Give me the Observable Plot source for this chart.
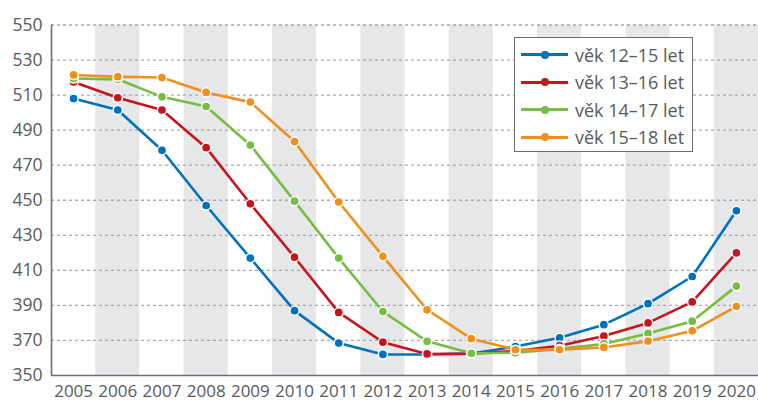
<!DOCTYPE html>
<html>
<head>
<meta charset="utf-8">
<script src="https://cdn.jsdelivr.net/npm/d3@7"></script>
<script src="https://cdn.jsdelivr.net/npm/@observablehq/plot@0.6"></script>
<style>
  html, body { margin: 0; padding: 0; background: #fff; }
  #wrap { position: relative; width: 758px; height: 401px; font-family: "Open Sans", sans-serif; }
  #legend { position: absolute; left: 514px; top: 37px; width: 179px; height: 115px; background: #fff; border: 1px solid #6d6e71; box-sizing: border-box; }
  .row { position: absolute; left: 0; height: 20px; display: flex; align-items: center; }
  .sym { position: relative; width: 47px; height: 20px; margin-left: 6px; }
  .sym .ln { position: absolute; left: 0; right: 0; top: 8.5px; height: 3px; }
  .sym .dt { position: absolute; left: 19.5px; top: 6px; width: 8px; height: 8px; border-radius: 50%; }
  .lab { margin-left: 7px; font-size: 18px; color: #58595b; white-space: nowrap; }
</style>
</head>
<body>
<div id="wrap"><div id="chart"></div><div id="legend"></div></div>
<script>
const years = [2005, 2006, 2007, 2008, 2009, 2010, 2011, 2012, 2013, 2014, 2015, 2016, 2017, 2018, 2019, 2020];
const seriesNames = ["věk 12–15 let", "věk 13–16 let", "věk 14–17 let", "věk 15–18 let"];
const seriesColors = ["#0071bc", "#c4161c", "#76bd43", "#f18f1c"];
const age12to15 = [508, 501.5, 478.5, 447, 417, 387, 368.5, 362, 362, 362.5, 366.5, 371.5, 379, 391, 406.5, 444];
const age13to16 = [517.5, 508.5, 501.5, 480, 448, 417.5, 386, 369, 362.3, 362.5, 364, 367, 372.5, 380, 392, 420];
const age14to17 = [519.5, 519, 509, 503.5, 481.5, 449.5, 417, 386.5, 369.5, 362.7, 363, 365.2, 368, 374, 381, 401];
const age15to18 = [521.5, 520.5, 520, 511.5, 506, 483.5, 449, 418, 387.5, 371, 364.7, 364.7, 366, 369.6, 375.5, 389.5];
const yTicks = [350, 370, 390, 410, 430, 450, 470, 490, 510, 530, 550];

const allSeries = [age12to15, age13to16, age14to17, age15to18];
const shadedYears = years.filter(y => y % 2 === 0);

const marks = [
  Plot.rect(shadedYears, {x1: d => d - 0.5, x2: d => d + 0.5, y1: yTicks[0], y2: yTicks[yTicks.length - 1], fill: "#e6e7e8"}),
  Plot.ruleY(yTicks.slice(1), {stroke: "#a7a9ac", strokeWidth: 1.3, strokeDasharray: "3,3"}),
  Plot.ruleY([yTicks[0]], {stroke: "#6d6e71", strokeWidth: 1.6}),
  Plot.ruleX([years[0] - 0.5], {stroke: "#6d6e71", strokeWidth: 1.6}),
  Plot.axisY({ticks: yTicks, tickSize: 0, tickPadding: 9, tickFormat: d => String(d), fill: "#58595b", fontSize: 17.5, label: null}),
  Plot.axisX({ticks: years, tickSize: 0, tickPadding: 9, tickFormat: d => String(d), fill: "#58595b", fontSize: 17, label: null})
];
allSeries.forEach((vals, i) => {
  const rows = vals.map((v, j) => ({year: years[j], value: v}));
  marks.push(Plot.line(rows, {x: "year", y: "value", stroke: seriesColors[i], strokeWidth: 2.6}));
  marks.push(Plot.dot(rows, {x: "year", y: "value", r: 4.6, fill: seriesColors[i], stroke: "#fff", strokeWidth: 1.5}));
});

const chart = Plot.plot({
  width: 758, height: 401,
  marginLeft: 51, marginRight: 0, marginTop: 24.5, marginBottom: 26,
  style: {fontFamily: "'Open Sans', sans-serif", background: "#fff", overflow: "visible"},
  x: {type: "linear", domain: [years[0] - 0.5, years[years.length - 1] + 0.5], axis: null, label: null},
  y: {domain: [yTicks[0], yTicks[yTicks.length - 1]], axis: null, label: null},
  marks
});
document.getElementById("chart").appendChild(chart);

const legend = document.getElementById("legend");
const rowTops = [6.5, 34, 61.5, 89];
seriesNames.forEach((name, i) => {
  const row = document.createElement("div");
  row.className = "row";
  row.style.top = rowTops[i] + "px";
  row.innerHTML = `<div class="sym"><div class="ln" style="background:${seriesColors[i]}"></div><div class="dt" style="background:${seriesColors[i]}"></div></div><div class="lab">${name}</div>`;
  legend.appendChild(row);
});
</script>
</body>
</html>
